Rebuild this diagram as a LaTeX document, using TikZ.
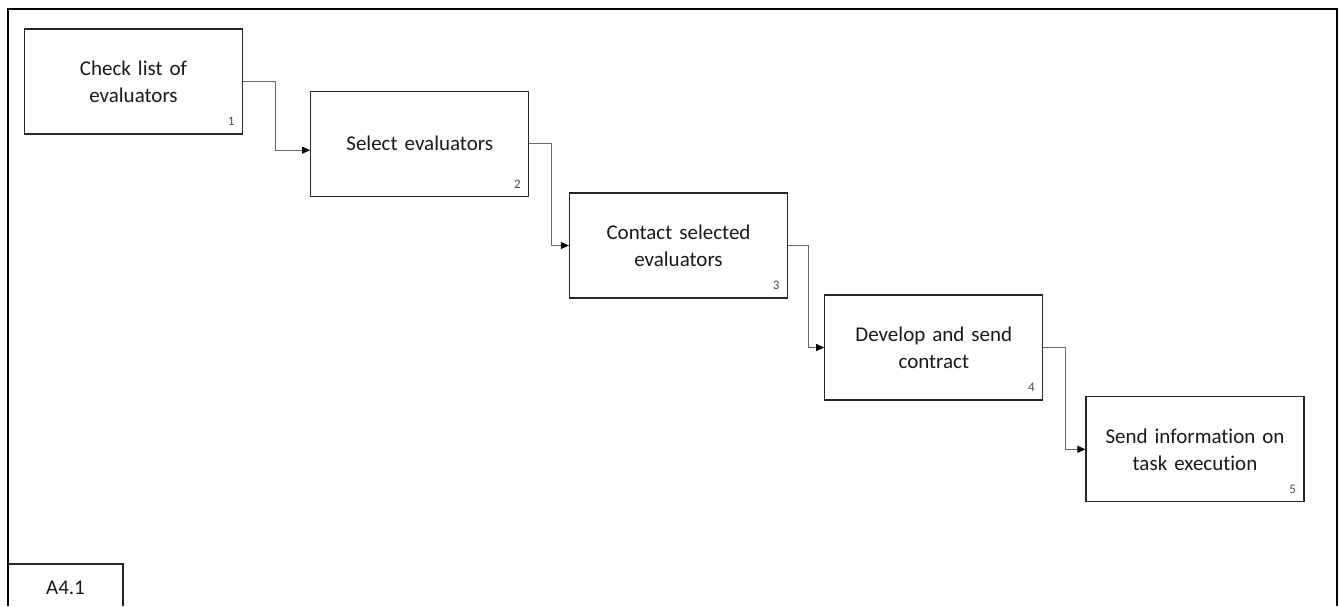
\documentclass[tikz,border=0pt]{standalone}
\usepackage{fontspec}
\setmainfont{Carlito}[Ligatures=NoCommon]
\usetikzlibrary{arrows.meta}
\begin{document}
\begin{tikzpicture}[x=1pt,y=-1pt,
  activity/.style={draw=black!85, line width=1.3pt, rectangle,
    minimum width=218pt, minimum height=105pt, inner sep=0pt,
    align=center, text width=200pt, text=black!90,
    font=\fontsize{21}{27}\selectfont},
  boxnum/.style={anchor=south east, inner sep=0pt, text=black!70,
    font=\fontsize{13}{13}\selectfont},
  flow/.style={draw=black!60, line width=0.9pt,
    -{Triangle[length=8pt,width=7pt,color=black]}},
  frame/.style={draw=black, line width=1.6pt}]
  \useasboundingbox (0,0) rectangle (1339,606);

  % outer frame, open at the bottom
  \draw[frame] (8,606) -- (8,9) -- (1337,9) -- (1337,606);

  % diagram number tab
  \draw[draw=black!85, line width=1.2pt] (8,564) -- (123,564) -- (123,606);
  \node[font=\fontsize{21}{27}\selectfont, text=black!90] (tag) at (65.5,588) {A4.1};

  % activities
  \node[activity] (b1) at (133.5,81.5) {Check list of\\evaluators};
  \node[activity] (b2) at (419.7,143.7) {Select evaluators};
  \node[activity] (b3) at (678.5,245.5) {Contact selected\\evaluators};
  \node[activity] (b4) at (933.8,347.5) {Develop and send\\contract};
  \node[activity] (b5) at (1195,449.3) {Send information on\\task execution};

  % activity numbers, tucked into the lower right corner
  \foreach \b/\n in {b1/1,b2/2,b3/3,b4/4,b5/5}
    \node[boxnum] (n\n) at ([xshift=-8.5pt,yshift=8.5pt]\b.south east) {\n};

  % precedence links
  \draw[flow] (b1.east) -- ++(32,0) |- ([yshift=-6.5pt]b2.west);
  \draw[flow] (b2.east) -- ++(22,0) |- (b3.west);
  \draw[flow] (b3.east) -- ++(20,0) |- (b4.west);
  \draw[flow] (b4.east) -- ++(22,0) |- (b5.west);
\end{tikzpicture}
\end{document}
